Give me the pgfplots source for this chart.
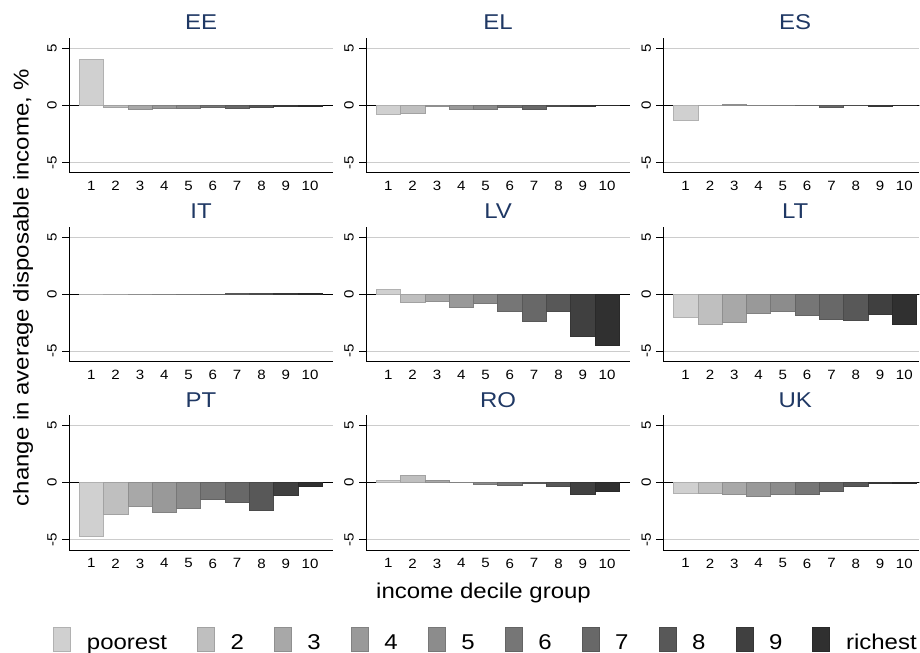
\documentclass[border=0pt]{standalone}
\usepackage{pgfplots}
\pgfplotsset{compat=1.18}
\usepackage{pgfplotstable}
\usepackage{fontspec}
\setmainfont{Liberation Sans}[FakeStretch=1.12]

\definecolor{d1}{HTML}{D0D0D0}
\definecolor{d2}{HTML}{BFBFBF}
\definecolor{d3}{HTML}{A8A8A8}
\definecolor{d4}{HTML}{999999}
\definecolor{d5}{HTML}{8C8C8C}
\definecolor{d6}{HTML}{767676}
\definecolor{d7}{HTML}{686868}
\definecolor{d8}{HTML}{585858}
\definecolor{d9}{HTML}{404040}
\definecolor{d10}{HTML}{303030}
\definecolor{ttl}{HTML}{1F3864}

\pgfplotstableread{
dec EE EL ES IT LV LT PT RO UK
1 4.07 -0.82 -1.30 -0.03 0.38 -2.02 -4.68 0.23 -0.91
2 -0.20 -0.67 0.02 -0.02 -0.70 -2.63 -2.81 0.67 -0.91
3 -0.38 -0.10 0.10 0.02 -0.60 -2.46 -2.05 0.23 -1.05
4 -0.25 -0.30 0.03 0.02 -1.14 -1.67 -2.63 0.05 -1.17
5 -0.25 -0.30 0.05 0.02 -0.78 -1.52 -2.28 -0.10 -0.99
6 -0.18 -0.15 -0.03 0.02 -1.52 -1.84 -1.46 -0.20 -0.99
7 -0.25 -0.33 -0.12 0.03 -2.40 -2.25 -1.75 -0.08 -0.76
8 -0.20 -0.05 -0.03 0.03 -1.52 -2.28 -2.43 -0.29 -0.35
9 -0.05 -0.05 -0.05 0.05 -3.71 -1.81 -1.08 -1.05 -0.09
10 -0.05 0.05 0.02 0.05 -4.53 -2.63 -0.32 -0.73 -0.05
}\data

\pgfplotsset{
  panel/.style={
    scale only axis, x=24.3bp, y=11.4bp,
    xmin=0.08, xmax=10.95, ymin=-5.9, ymax=5.9,
    axis lines*=left, axis line style={black, line width=0.8bp},
    xtick={1,...,10}, ytick={-5,0,5},
    tick align=outside, major tick length=7bp,
    xtick style={draw=none}, ytick style={black, line width=0.8bp},
    ymajorgrids, grid style={black!20, line width=0.7bp},
    /pgf/number format/assume math mode=true,
    ticklabel style={font=\fontsize{13.5}{13.5}\selectfont},
    yticklabel style={xshift=-5bp, rotate=90, anchor=south, inner sep=0pt},
    xticklabel style={anchor=north, inner sep=0pt, yshift=-1.5bp},
    title style={font=\fontsize{21.5}{21.5}\selectfont, color=ttl, at={(0.5,1)}, anchor=base, inner sep=0pt, yshift=2.5bp},
  },
  dec/.style={ybar, bar width=1, bar shift=0pt, fill=d#1, draw=d#1!85!black, line width=0.6bp,
    x filter/.expression={abs(x-#1)<0.1 ? x : nan},
    legend image code/.code={\draw[##1, line width=0.6bp] (0bp,-2bp) rectangle (17bp,22bp);}},
}

\newcommand{\panel}[5]{%
  \begin{axis}[panel, at={(#2bp,#3bp)}, anchor=south west, xmax=#4, title={#1}, #5]
    \addplot[forget plot, black, line width=0.8bp] coordinates {(0.08,0) (10.95,0)};
    \pgfplotsinvokeforeach{1,...,10}{\addplot[dec=##1] table[x=dec,y=#1]{\data};}
  \end{axis}}

\begin{document}
\begin{tikzpicture}
\useasboundingbox (0,0) rectangle (920bp,-653bp);
\panel{EE}{69}{-172.7}{10.95}{}
\panel{EL}{366}{-172.7}{10.95}{}
\panel{ES}{663.3}{-172.7}{10.62}{title style={at={(0.515,1)}}}
\panel{IT}{69}{-361.3}{10.95}{ylabel={change in average disposable income, \%},
  ylabel style={at={(axis description cs:-0.153,0.549)}, anchor=base, inner sep=0pt, font=\fontsize{21.5}{21.5}\selectfont}}
\panel{LV}{366}{-361.3}{10.95}{}
\panel{LT}{663.3}{-361.3}{10.62}{title style={at={(0.515,1)}}}
\panel{PT}{69}{-550}{10.95}{}
\panel{RO}{366}{-550}{10.95}{xlabel={income decile group},
  xlabel style={at={(axis description cs:0.445,-0.363)}, anchor=base, inner sep=0pt, font=\fontsize{21.5}{21.5}\selectfont},
  legend columns=10, legend entries={poorest,2,3,4,5,6,7,8,9,richest},
  legend style={draw=none, fill=none, inner sep=0pt, at={(0.4506,-0.6636)}, anchor=center,
    font=\fontsize{21.5}{21.5}\selectfont, nodes={inner sep=0pt}, cells={anchor=base west},
    /tikz/every odd column/.append style={column sep=16bp},
    /tikz/every even column/.append style={column sep=30bp}}}
\panel{UK}{663.3}{-550}{10.62}{title style={at={(0.515,1)}}}
\end{tikzpicture}
\end{document}
